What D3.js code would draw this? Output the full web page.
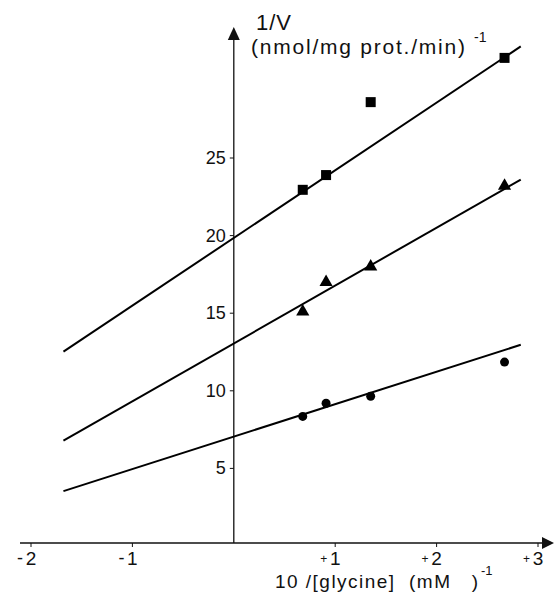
<!DOCTYPE html>
<html>
<head>
<meta charset="utf-8">
<script src="https://cdn.jsdelivr.net/npm/d3@7"></script>
<style>
  html, body { margin: 0; padding: 0; background: #fff; }
  svg { display: block; }
  text { font-family: "Liberation Sans", "DejaVu Sans", sans-serif; fill: #111; }
</style>
</head>
<body>
<svg id="chart" width="554" height="603"></svg>
<script>
// Data
const xValues = [0.68, 0.91, 1.35, 2.67];          // 10/[glycine] (mM)^-1
const squareValues = [22.95, 23.9, 28.6, 31.45];     // 1/V
const triangleValues = [15.1, 17.0, 18.0, 23.2];
const circleValues = [8.35, 9.2, 9.65, 11.85];

// Fitted lines: intercept, slope, drawn from xStart to xEnd
const lineIntercepts = [19.85, 13.05, 7.05];
const lineSlopes = [4.36, 3.73, 2.09];
const lineXStart = -1.68;
const lineXEnd = 2.83;

const xTicks = [-2, -1, 1, 2, 3];
const yTicks = [5, 10, 15, 20, 25];

const svg = d3.select('#chart');

const x = d3.scaleLinear().domain([-2, 3]).range([31, 538]);
const y = d3.scaleLinear().domain([0, 25]).range([546, 158]);

const x0 = x(0);
const y0 = y(0) - 3;

// X axis with arrow
svg.append('line')
    .attr('x1', 20).attr('x2', 546)
    .attr('y1', y0).attr('y2', y0)
    .attr('stroke', '#111').attr('stroke-width', 1.3);
svg.append('path')
    .attr('d', `M554,${y0} L542,${y0 - 6} L542,${y0 + 6} Z`)
    .attr('fill', '#111');

// Y axis with arrow
svg.append('line')
    .attr('x1', x0).attr('x2', x0)
    .attr('y1', y0).attr('y2', 36)
    .attr('stroke', '#111').attr('stroke-width', 1.3);
svg.append('path')
    .attr('d', `M${x0},27 L${x0 - 6},40 L${x0 + 6},40 Z`)
    .attr('fill', '#111');

// X ticks
svg.selectAll('.xtick')
    .data(xTicks)
    .enter()
    .append('line')
    .attr('x1', d => x(d)).attr('x2', d => x(d))
    .attr('y1', y0).attr('y2', y0 + 4)
    .attr('stroke', '#111');

// tick digits
svg.selectAll('.xdigit')
    .data(xTicks)
    .enter()
    .append('text')
    .attr('x', d => x(d))
    .attr('y', 565)
    .attr('text-anchor', 'middle')
    .attr('font-size', 19)
    .text(d => Math.abs(d));

// tick signs
svg.selectAll('.xsign')
    .data(xTicks)
    .enter()
    .append('text')
    .attr('x', d => x(d) - 8)
    .attr('y', d => d < 0 ? 564 : 563)
    .attr('text-anchor', 'end')
    .attr('font-size', d => d < 0 ? 18 : 12)
    .text(d => d < 0 ? '-' : '+');

// Y ticks
svg.selectAll('.ytick')
    .data(yTicks)
    .enter()
    .append('line')
    .attr('x1', x0 - 4).attr('x2', x0)
    .attr('y1', d => y(d)).attr('y2', d => y(d))
    .attr('stroke', '#111');

svg.selectAll('.ylabel')
    .data(yTicks)
    .enter()
    .append('text')
    .attr('x', x0 - 8)
    .attr('y', d => y(d) + 6)
    .attr('text-anchor', 'end')
    .attr('font-size', 18)
    .text(d => d);

// Fitted lines
lineIntercepts.forEach((b, i) => {
    const m = lineSlopes[i];
    svg.append('line')
        .attr('x1', x(lineXStart)).attr('y1', y(b + m * lineXStart))
        .attr('x2', x(lineXEnd)).attr('y2', y(b + m * lineXEnd))
        .attr('stroke', '#000')
        .attr('stroke-width', 2);
});

// Points
svg.selectAll('.sq')
    .data(squareValues)
    .enter()
    .append('rect')
    .attr('x', (d, i) => x(xValues[i]) - 5)
    .attr('y', d => y(d) - 5)
    .attr('width', 10).attr('height', 10)
    .attr('fill', '#000');

svg.selectAll('.tri')
    .data(triangleValues)
    .enter()
    .append('path')
    .attr('d', d3.symbol().type(d3.symbolTriangle).size(75))
    .attr('transform', (d, i) => `translate(${x(xValues[i])},${y(d)})`)
    .attr('fill', '#000');

svg.selectAll('.circ')
    .data(circleValues)
    .enter()
    .append('circle')
    .attr('cx', (d, i) => x(xValues[i]))
    .attr('cy', d => y(d))
    .attr('r', 4.5)
    .attr('fill', '#000');

// Axis titles
svg.append('text')
    .attr('x', 256).attr('y', 30)
    .attr('font-size', 22)
    .attr('letter-spacing', 1)
    .text('1/V');
svg.append('text')
    .attr('x', 251).attr('y', 54)
    .attr('font-size', 21)
    .attr('textLength', 214)
    .attr('lengthAdjust', 'spacing')
    .text('(nmol/mg prot./min)');
svg.append('text')
    .attr('x', 474).attr('y', 42)
    .attr('font-size', 14)
    .text('-1');

svg.append('text')
    .attr('x', 275).attr('y', 588)
    .attr('font-size', 19)
    .attr('xml:space', 'preserve')
    .attr('textLength', 203)
    .attr('lengthAdjust', 'spacing')
    .text('10 /[glycine]  (mM   )');
svg.append('text')
    .attr('x', 481).attr('y', 575)
    .attr('font-size', 13)
    .text('-1');
</script>
</body>
</html>
